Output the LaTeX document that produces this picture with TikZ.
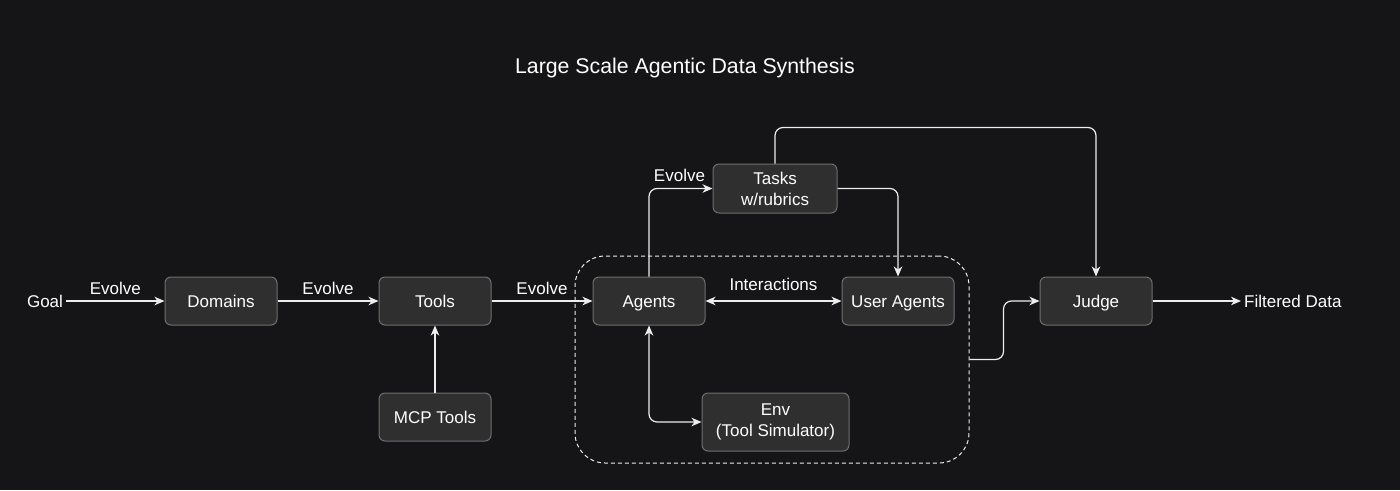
\documentclass[tikz,border=0pt]{standalone}
\usepackage{fontspec}
\setmainfont{Liberation Sans}
\usetikzlibrary{arrows.meta}
\definecolor{bg}{HTML}{151517}
\definecolor{nodefill}{HTML}{2F2F2F}
\definecolor{nodeborder}{HTML}{6E6E6E}
\definecolor{ln}{HTML}{EDEDED}
\begin{document}
\begin{tikzpicture}[x=1pt,y=-1pt,
  box/.style={draw=nodeborder, fill=nodefill, rounded corners=6pt, line width=1pt,
    minimum width=112pt, minimum height=48pt, text=white,
    font=\fontsize{17}{21}\selectfont, align=center, inner sep=0pt},
  one/.style={text height=12.2pt, text depth=0pt},
  tip/.tip={Stealth[length=10pt,width=8.5pt,inset=3pt]},
  conn/.style={draw=ln, line width=1.2pt, -tip, rounded corners=8pt},
  both/.style={draw=ln, line width=1.2pt, tip-tip, rounded corners=8pt},
  lbl/.style={text=white, font=\fontsize{17}{21}\selectfont, inner sep=0pt},
  freelbl/.style={text=white, font=\fontsize{17}{21}\selectfont, inner sep=3pt}]
\fill[bg] (0,0) rectangle (1400,490);
\useasboundingbox (0,0) rectangle (1400,490);

\node[lbl, font=\fontsize{21.3}{25}\selectfont] (title) at (685,68) {Large Scale Agentic Data Synthesis};

\node[draw=ln, line width=1pt, dash pattern=on 4pt off 3pt, rounded corners=30pt,
  minimum width=394pt, minimum height=207pt, inner sep=0pt] (group) at (772,359.5) {};

\node[freelbl] (goal) at (45,301) {Goal};
\node[box, one] (domains) at (221,301) {Domains};
\node[box, one] (tools) at (435,301) {Tools};
\node[box, one] (mcp) at (435,417) {MCP Tools};
\node[box, one] (agents) at (649,301) {Agents};
\node[box, one] (user) at (898,301) {User Agents};
\node[box, minimum width=124pt, minimum height=49pt] (tasks) at (775,188.5) {Tasks\\w/rubrics};
\node[box, minimum width=147pt, minimum height=58pt] (env) at (775.5,422) {Env\\(Tool Simulator)};
\node[box, one] (judge) at (1096,301) {Judge};
\node[freelbl, anchor=west] (filtered) at (1241,301) {Filtered Data};

\draw[conn] (goal) -- node[lbl, midway, yshift=13pt] {Evolve} (domains);
\draw[conn] (domains) -- node[lbl, midway, yshift=13pt] {Evolve} (tools);
\draw[conn] (tools) -- node[lbl, midway, yshift=13pt] {Evolve} (agents);
\draw[conn] (mcp) -- (tools);
\draw[both] (agents) -- node[lbl, midway, yshift=17pt] {Interactions} (user);
\draw[both] (agents.south) |- (env.west);
\draw[conn] (agents.north) |- node[lbl, pos=0.74, above=6pt] {Evolve} (tasks.west);
\draw[conn] (tasks.east) -| (user.north);
\draw[conn] (tasks.north) -- ++(0,-36) -| (judge.north);
\draw[conn] (group.east) -- ++(34,0) |- (judge.west);
\draw[conn] (judge) -- (filtered);
\end{tikzpicture}
\end{document}
